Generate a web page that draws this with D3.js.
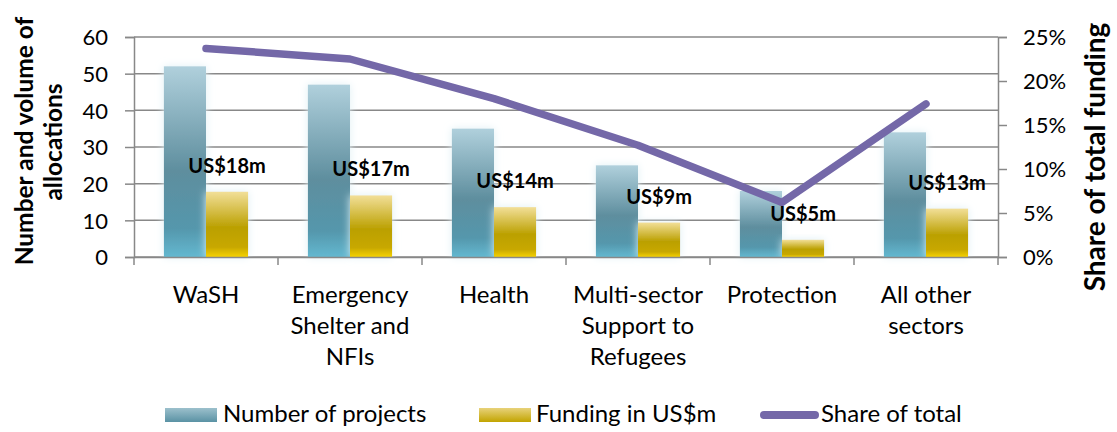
<!DOCTYPE html>
<html>
<head>
<meta charset="utf-8">
<script src="https://cdn.jsdelivr.net/npm/d3@7"></script>
<style>
  body { margin: 0; background: #fff; }
  svg { font-family: Lato, "Open Sans", sans-serif; }
</style>
</head>
<body>
<div id="chart"></div>
<script>
// data
const sectors = ["WaSH", "Emergency Shelter and NFIs", "Health", "Multi-sector Support to Refugees", "Protection", "All other sectors"];
const sectorLines = [["WaSH"], ["Emergency", "Shelter and", "NFIs"], ["Health"], ["Multi-sector", "Support to", "Refugees"], ["Protection"], ["All other", "sectors"]];
const projects = [52, 47, 35, 25, 18, 34];
const funding = [17.8, 16.8, 13.6, 9.4, 4.7, 13.2];
const fundingLabels = ["US$18m", "US$17m", "US$14m", "US$9m", "US$5m", "US$13m"];
const share = [0.237, 0.225, 0.180, 0.127, 0.062, 0.174];
const leftTicks = [0, 10, 20, 30, 40, 50, 60];
const rightTicks = [0, 0.05, 0.10, 0.15, 0.20, 0.25];

const width = 1117, height = 432;
const margin = { top: 37, left: 134, bottom: 175, right: 119 };
const iwidth = width - margin.left - margin.right;
const iheight = height - margin.top - margin.bottom;

const svg = d3.select("#chart").append("svg")
  .attr("width", width)
  .attr("height", height);

const defs = svg.append("defs");
let gb = defs.append("linearGradient").attr("id", "blueGrad")
  .attr("x1", 0).attr("y1", 0).attr("x2", 0).attr("y2", 1);
gb.append("stop").attr("offset", "0%").attr("stop-color", "#b0d0dc");
gb.append("stop").attr("offset", "55%").attr("stop-color", "#5e8e9e");
gb.append("stop").attr("offset", "85%").attr("stop-color", "#5597ac");
gb.append("stop").attr("offset", "100%").attr("stop-color", "#63b8d0");
let gg = defs.append("linearGradient").attr("id", "goldGrad")
  .attr("x1", 0).attr("y1", 0).attr("x2", 0).attr("y2", 1);
gg.append("stop").attr("offset", "0%").attr("stop-color", "#f2df98");
gg.append("stop").attr("offset", "55%").attr("stop-color", "#bba000");
gg.append("stop").attr("offset", "85%").attr("stop-color", "#c8a800");
gg.append("stop").attr("offset", "100%").attr("stop-color", "#f6d200");
let lg = defs.append("linearGradient").attr("id", "blueLeg")
  .attr("x1", 0).attr("y1", 0).attr("x2", 0).attr("y2", 1);
lg.append("stop").attr("offset", "0%").attr("stop-color", "#9cc0cc");
lg.append("stop").attr("offset", "100%").attr("stop-color", "#5a92a4");
let lgg = defs.append("linearGradient").attr("id", "goldLeg")
  .attr("x1", 0).attr("y1", 0).attr("x2", 0).attr("y2", 1);
lgg.append("stop").attr("offset", "0%").attr("stop-color", "#e8d27a");
lgg.append("stop").attr("offset", "100%").attr("stop-color", "#c2a400");
let glow = defs.append("filter").attr("id", "glow")
  .attr("x", "-30%").attr("y", "-30%").attr("width", "160%").attr("height", "160%");
glow.append("feGaussianBlur").attr("in", "SourceAlpha").attr("stdDeviation", 4).attr("result", "b");
glow.append("feFlood").attr("flood-color", "#dff0f5").attr("result", "c");
glow.append("feComposite").attr("in", "c").attr("in2", "b").attr("operator", "in").attr("result", "s");
let mg = glow.append("feMerge");
mg.append("feMergeNode").attr("in", "s");
mg.append("feMergeNode").attr("in", "SourceGraphic");

const g = svg.append("g").attr("transform", `translate(${margin.left},${margin.top})`);

let x = d3.scaleBand().domain(sectors).range([0, iwidth]).paddingInner(0).paddingOuter(0);
let xi = d3.scaleBand().domain(["p", "f"]).range([0, x.bandwidth()]).paddingInner(0).paddingOuter(0.71);
let y = d3.scaleLinear().domain([0, 60]).range([iheight, 0]);
let y2 = d3.scaleLinear().domain([0, 0.25]).range([iheight, 0]);

// gridlines
g.append("g").selectAll("line").data(leftTicks).enter().append("line")
  .attr("x1", 0).attr("x2", iwidth)
  .attr("y1", d => y(d)).attr("y2", d => y(d))
  .attr("stroke", "#888").attr("stroke-width", 1.5);

// bars
g.append("g").selectAll("rect").data(sectors).enter().append("rect")
  .attr("x", d => x(d) + xi("p"))
  .attr("y", (d, i) => y(projects[i]))
  .attr("width", xi.bandwidth())
  .attr("height", (d, i) => iheight - y(projects[i]))
  .attr("fill", "url(#blueGrad)")
  .attr("filter", "url(#glow)");

g.append("g").selectAll("rect").data(sectors).enter().append("rect")
  .attr("x", d => x(d) + xi("f"))
  .attr("y", (d, i) => y(funding[i]))
  .attr("width", xi.bandwidth())
  .attr("height", (d, i) => iheight - y(funding[i]))
  .attr("fill", "url(#goldGrad)")
  .attr("filter", "url(#glow)");

// axes
let yAxis = g.append("g").call(d3.axisLeft(y).tickValues(leftTicks).tickSize(9).tickPadding(17));
let y2Axis = g.append("g").attr("transform", `translate(${iwidth},0)`)
  .call(d3.axisRight(y2).tickValues(rightTicks).tickFormat(d3.format(".0%")).tickSize(9).tickPadding(16));
let xAxis = g.append("g").attr("transform", `translate(0,${iheight})`)
  .call(d3.axisBottom(x).tickSize(0).tickFormat(""));
[yAxis, y2Axis, xAxis].forEach(a => {
  a.select(".domain").attr("stroke", "#888").attr("stroke-width", 1.5);
  a.selectAll(".tick line").attr("stroke", "#888").attr("stroke-width", 1.5);
  a.selectAll("text").style("font-size", "22px").attr("fill", "#000").style("font-family", "Lato, sans-serif");
});
yAxis.selectAll(".tick text").attr("dy", "0.36em");
y2Axis.selectAll(".tick text").attr("dy", "0.36em");

// category boundary ticks
g.append("g").selectAll("line").data(sectors.concat(["end"])).enter().append("line")
  .attr("x1", (d, i) => i * x.step()).attr("x2", (d, i) => i * x.step())
  .attr("y1", iheight).attr("y2", iheight + 8)
  .attr("stroke", "#888").attr("stroke-width", 1.5);

// category labels
let cats = g.append("g").selectAll("text").data(sectors).enter().append("text")
  .attr("x", d => x(d) + x.bandwidth() / 2)
  .attr("y", iheight + 46)
  .attr("text-anchor", "middle")
  .style("font-size", "24px");
cats.each(function (d, i) {
  d3.select(this).selectAll("tspan").data(sectorLines[i]).enter().append("tspan")
    .attr("x", x(d) + x.bandwidth() / 2)
    .attr("dy", (t, j) => j === 0 ? 0 : 31)
    .text(t => t);
});

// share line
let line = d3.line()
  .x((d, i) => x(sectors[i]) + x.bandwidth() / 2)
  .y(d => y2(d));
g.append("path").datum(share)
  .attr("d", line)
  .attr("fill", "none")
  .attr("stroke", "#7468a8")
  .attr("stroke-width", 7.5)
  .attr("stroke-linecap", "round")
  .attr("stroke-linejoin", "round");

// funding labels
g.append("g").selectAll("text").data(sectors).enter().append("text")
  .attr("x", d => x(d) + xi("f") + xi.bandwidth() / 2)
  .attr("y", (d, i) => y(funding[i]) - 19)
  .attr("text-anchor", "middle")
  .style("font-size", "20px")
  .style("font-weight", "bold")
  .text((d, i) => fundingLabels[i]);

// axis titles
svg.append("text")
  .attr("transform", "translate(33,141) rotate(-90)")
  .attr("text-anchor", "middle")
  .style("font-size", "24.5px").style("font-weight", "bold")
  .text("Number and volume of");
svg.append("text")
  .attr("transform", "translate(62,142) rotate(-90)")
  .attr("text-anchor", "middle")
  .style("font-size", "24.5px").style("font-weight", "bold")
  .text("allocations");
svg.append("text")
  .attr("transform", "translate(1105,157) rotate(-90)")
  .attr("text-anchor", "middle")
  .style("font-size", "28px").style("font-weight", "bold")
  .text("Share of total funding");

// legend
let legend = svg.append("g").attr("transform", "translate(0,422)");
legend.append("rect").attr("x", 165).attr("y", -14).attr("width", 52).attr("height", 14).attr("fill", "url(#blueLeg)");
legend.append("text").attr("x", 223).attr("y", 0).style("font-size", "24px").text("Number of projects");
legend.append("rect").attr("x", 479).attr("y", -14).attr("width", 52).attr("height", 14).attr("fill", "url(#goldLeg)");
legend.append("text").attr("x", 536).attr("y", 0).style("font-size", "24px").text("Funding in US$m");
legend.append("line").attr("x1", 764).attr("x2", 815).attr("y1", -7).attr("y2", -7)
  .attr("stroke", "#7468a8").attr("stroke-width", 8).attr("stroke-linecap", "round");
legend.append("text").attr("x", 821).attr("y", 0).style("font-size", "24px").text("Share of total");
</script>
</body>
</html>
